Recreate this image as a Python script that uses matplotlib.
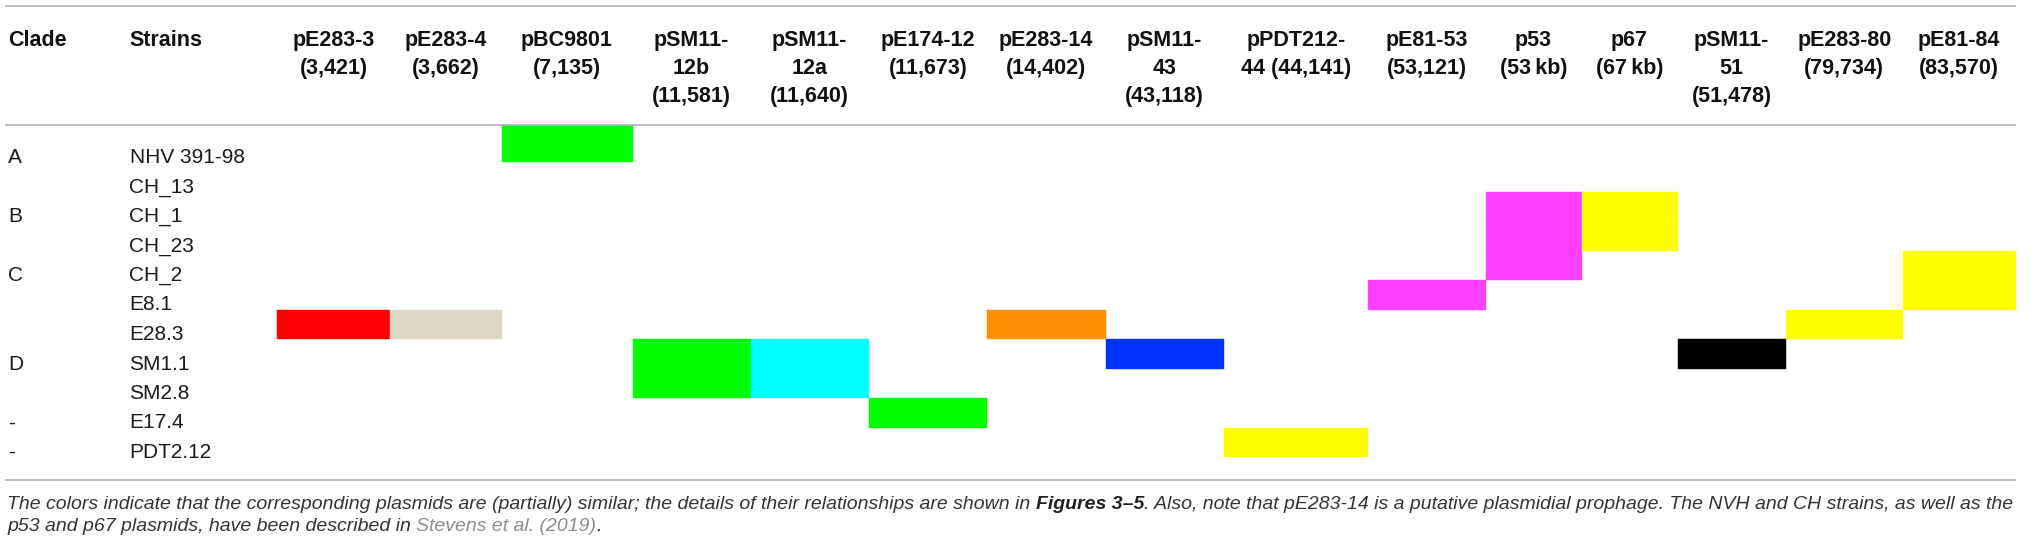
import matplotlib
matplotlib.use("Agg")
import matplotlib.pyplot as plt

plt.rcParams["font.family"] = ["Liberation Sans", "DejaVu Sans"]

# ---------------------------------------------------------------------------
# Table content
# ---------------------------------------------------------------------------

plasmids = [
    "pE283-3", "pE283-4", "pBC9801", "pSM11-12b", "pSM11-12a", "pE174-12",
    "pE283-14", "pSM11-43", "pPDT212-44", "pE81-53", "p53", "p67",
    "pSM11-51", "pE283-80", "pE81-84",
]
header_labels = [
    "pE283-3\n(3,421)", "pE283-4\n(3,662)", "pBC9801\n(7,135)",
    "pSM11-\n12b\n(11,581)", "pSM11-\n12a\n(11,640)", "pE174-12\n(11,673)",
    "pE283-14\n(14,402)", "pSM11-\n43\n(43,118)", "pPDT212-\n44 (44,141)",
    "pE81-53\n(53,121)", "p53\n(53\u2009kb)", "p67\n(67\u2009kb)",
    "pSM11-\n51\n(51,478)", "pE283-80\n(79,734)", "pE81-84\n(83,570)",
]
strains = [
    "NHV 391-98", "CH_13", "CH_1", "CH_23", "CH_2", "E8.1", "E28.3",
    "SM1.1", "SM2.8", "E17.4", "PDT2.12",
]
clades = ["A", "", "B", "", "C", "", "", "D", "", "-", "-"]

# which strains carry (a relative of) each plasmid
carried_by = {
    "pE283-3": ["E28.3"],
    "pE283-4": ["E28.3"],
    "pBC9801": ["NHV 391-98"],
    "pSM11-12b": ["SM1.1", "SM2.8"],
    "pSM11-12a": ["SM1.1", "SM2.8"],
    "pE174-12": ["E17.4"],
    "pE283-14": ["E28.3"],
    "pSM11-43": ["SM1.1"],
    "pPDT212-44": ["PDT2.12"],
    "pE81-53": ["E8.1"],
    "p53": ["CH_1", "CH_23", "CH_2"],
    "p67": ["CH_1", "CH_23"],
    "pSM11-51": ["SM1.1"],
    "pE283-80": ["E28.3"],
    "pE81-84": ["CH_2", "E8.1"],
}

# ---------------------------------------------------------------------------
# Styles / layout (pixels)
# ---------------------------------------------------------------------------

plasmid_colors = [
    "#ff0000", "#ddd8c4", "#00ff00", "#00ff00", "#00ffff", "#00ff00",
    "#ff9100", "#0033ff", "#ffff00", "#ff40ff", "#ff40ff", "#ffff00",
    "#000000", "#ffff00", "#ffff00",
]
W, H = 2032, 548
col_start = 277
col_widths = [113, 111.5, 131, 118, 118.5, 118, 118.5, 118.5, 143.5, 118,
              96, 96, 108.5, 116.5, 113]
row_start = 125
row_heights = [37] + [29.5] * 10
line_y = [6, 125, 479.5]
clade_x, strain_x = 8, 129.5

col_left = [col_start + sum(col_widths[:i]) for i in range(len(col_widths))]
row_top = [row_start + sum(row_heights[:i]) for i in range(len(row_heights))]

fig = plt.figure(figsize=(W / 100, H / 100), dpi=100)
ax = fig.add_axes([0, 0, 1, 1])
ax.set_xlim(0, W)
ax.set_ylim(H, 0)
ax.axis("off")

ax.hlines(line_y, 5, col_left[-1] + col_widths[-1], color="#b3b3b3", lw=1.2)

# header
hdr_kw = dict(fontsize=15.5, fontweight="bold", color="#111111", va="baseline",
              linespacing=1.3)
ax.text(clade_x, 46, "Clade", ha="left", **hdr_kw)
ax.text(strain_x, 46, "Strains", ha="left", **hdr_kw)
for i, lab in enumerate(header_labels):
    cx = col_left[i] + col_widths[i] / 2
    for k, part in enumerate(lab.split("\n")):
        ax.text(cx, 46 + 28 * k, part, ha="center", **hdr_kw)

# body text
body_kw = dict(fontsize=15, color="#1a1a1a", va="baseline")
for r, (cl, st) in enumerate(zip(clades, strains)):
    base = row_top[r] + row_heights[r] + 1
    ax.text(clade_x, base, cl, ha="left", **body_kw)
    ax.text(strain_x, base, st, ha="left", **body_kw)

# coloured cells
for i, p in enumerate(plasmids):
    rows = [strains.index(s) for s in carried_by[p]]
    ax.bar([col_left[i]] * len(rows), [row_heights[r] for r in rows],
           width=col_widths[i], bottom=[row_top[r] for r in rows],
           align="edge", color=plasmid_colors[i], edgecolor=plasmid_colors[i],
           linewidth=0.3)

# footnote with mixed styles
foot1 = [
    ("The colors indicate that the corresponding plasmids are (partially) similar; "
     "the details of their relationships are shown in", "normal", "#333333", True),
    ("Figures 3\u20135", "bold", "#222222", False),
    (". Also, note that pE283-14 is a putative plasmidial prophage. The NVH and CH "
     "strains, as well as the", "normal", "#333333", False),
]
foot2 = [
    ("p53 and p67 plasmids, have been described in", "normal", "#333333", True),
    ("Stevens et al. (2019)", "normal", "#8c8c8c", False),
    (".", "normal", "#333333", False),
]

renderer = fig.canvas.get_renderer()


def draw_pieces(pieces, y, size, x0=7):
    arts = []
    x = x0
    for text, weight, color, space_after in pieces:
        t = ax.text(x, y, text, fontsize=size, fontstyle="italic",
                    fontweight=weight, color=color, ha="left", va="baseline")
        arts.append(t)
        bb = t.get_window_extent(renderer)
        x += bb.width
        if space_after:
            sp = ax.text(0, 0, "x x", fontsize=size, fontstyle="italic")
            sq = ax.text(0, 0, "xx", fontsize=size, fontstyle="italic")
            x += sp.get_window_extent(renderer).width - sq.get_window_extent(renderer).width
            sp.remove()
            sq.remove()
    return arts, x - x0


trial = 12.0
arts, width = draw_pieces(foot1, 509, trial)
for a in arts:
    a.remove()
foot_size = trial * 2003 / width
draw_pieces(foot1, 509, foot_size)
draw_pieces(foot2, 531, foot_size)

fig.savefig("out.png", dpi=100, facecolor="white")
